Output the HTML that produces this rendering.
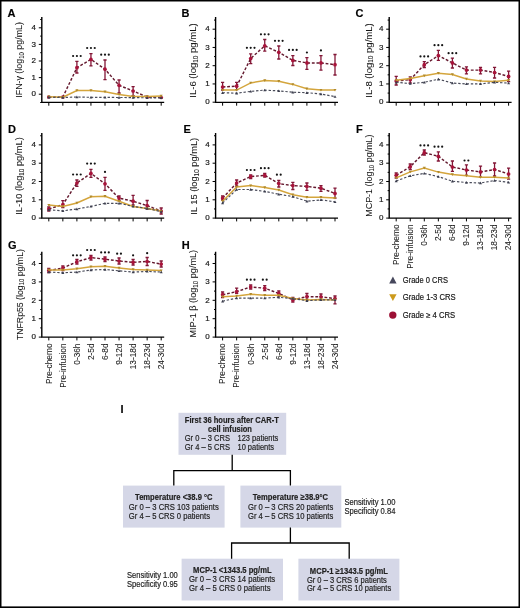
<!DOCTYPE html>
<html><head><meta charset="utf-8"><title>CRS cytokines</title>
<style>html,body{margin:0;padding:0;background:#fff;}svg{display:block;will-change:transform;}text{font-family:"Liberation Sans", sans-serif;stroke:#222;stroke-width:0.18px;}</style>
</head><body>
<svg width="520" height="608" viewBox="0 0 520 608" font-family='"Liberation Sans", sans-serif'>
<rect x="0" y="0" width="520" height="608" fill="#000"/>
<rect x="1.5" y="1.5" width="517" height="604.9" fill="#fff"/>
<text x="7.5" y="16.599999999999998" font-size="11" font-weight="bold" text-anchor="start" fill="#000">A</text>
<text transform="translate(22.1,59.9) rotate(-90)" font-size="9.6" text-anchor="middle" fill="#161616" style="stroke-width:0.06px" textLength="75.7" lengthAdjust="spacingAndGlyphs">IFN-γ (log<tspan font-size="6.6" dy="1.8">10</tspan><tspan dy="-1.8"> pg/mL)</tspan></text>
<path d="M41.8 17.0V102.4H164.2" fill="none" stroke="#000" stroke-width="1.4"/>
<text x="36.0" y="96.4" font-size="8" font-weight="normal" text-anchor="end" fill="#111">0</text>
<text x="36.0" y="79.8" font-size="8" font-weight="normal" text-anchor="end" fill="#111">1</text>
<text x="36.0" y="63.2" font-size="8" font-weight="normal" text-anchor="end" fill="#111">2</text>
<text x="36.0" y="46.6" font-size="8" font-weight="normal" text-anchor="end" fill="#111">3</text>
<text x="36.0" y="29.999999999999996" font-size="8" font-weight="normal" text-anchor="end" fill="#111">4</text>
<path d="M40.199999999999996 102.50H41.8 M38.8 94.20H41.8 M40.199999999999996 85.90H41.8 M38.8 77.60H41.8 M40.199999999999996 69.30H41.8 M38.8 61.00H41.8 M40.199999999999996 52.70H41.8 M38.8 44.40H41.8 M40.199999999999996 36.10H41.8 M38.8 27.80H41.8 M40.199999999999996 19.50H41.8 M48.80 102.4V105.7 M62.85 102.4V105.7 M76.90 102.4V105.7 M90.95 102.4V105.7 M105.00 102.4V105.7 M119.05 102.4V105.7 M133.10 102.4V105.7 M147.15 102.4V105.7 M161.20 102.4V105.7" stroke="#000" stroke-width="1"/>
<polyline points="48.80,97 62.85,97 76.90,67.7 90.95,59.4 105.00,69.2 119.05,85.3 133.10,91 147.15,97 161.20,97.5" fill="none" stroke="#641a2f" stroke-width="1.45" stroke-dasharray="2.8,1.8"/>
<path d="M76.90 61.4V73M75.30 61.4H78.50M75.30 73H78.50 M90.95 53.6V65.8M89.35 53.6H92.55M89.35 65.8H92.55 M105.00 60V79.6M103.40 60H106.60M103.40 79.6H106.60 M119.05 80V93M117.45 80H120.65M117.45 93H120.65 M133.10 86.6V95.7M131.50 86.6H134.70M131.50 95.7H134.70" stroke="#821636" stroke-width="1.3" fill="none"/>
<circle cx="48.80" cy="97" r="1.85" fill="#a8133a"/>
<circle cx="62.85" cy="97" r="1.85" fill="#a8133a"/>
<circle cx="76.90" cy="67.7" r="1.85" fill="#a8133a"/>
<circle cx="90.95" cy="59.4" r="1.85" fill="#a8133a"/>
<circle cx="105.00" cy="69.2" r="1.85" fill="#a8133a"/>
<circle cx="119.05" cy="85.3" r="1.85" fill="#a8133a"/>
<circle cx="133.10" cy="91" r="1.85" fill="#a8133a"/>
<circle cx="147.15" cy="97" r="1.85" fill="#a8133a"/>
<circle cx="161.20" cy="97.5" r="1.85" fill="#a8133a"/>
<polyline points="48.80,96.8 62.85,97.2 76.90,90.5 90.95,90.5 105.00,91.8 119.05,94.4 133.10,96.5 147.15,96.5 161.20,96.0" fill="none" stroke="#d4a53c" stroke-width="1.5"/>
<path d="M47.30 95.6L48.80 98.2L50.30 95.6Z" fill="#b08a2c"/>
<path d="M61.35 96.0L62.85 98.60000000000001L64.35 96.0Z" fill="#b08a2c"/>
<path d="M75.40 89.3L76.90 91.9L78.40 89.3Z" fill="#b08a2c"/>
<path d="M89.45 89.3L90.95 91.9L92.45 89.3Z" fill="#b08a2c"/>
<path d="M103.50 90.6L105.00 93.2L106.50 90.6Z" fill="#b08a2c"/>
<path d="M117.55 93.2L119.05 95.80000000000001L120.55 93.2Z" fill="#b08a2c"/>
<path d="M131.60 95.3L133.10 97.9L134.60 95.3Z" fill="#b08a2c"/>
<path d="M145.65 95.3L147.15 97.9L148.65 95.3Z" fill="#b08a2c"/>
<path d="M159.70 94.8L161.20 97.4L162.70 94.8Z" fill="#b08a2c"/>
<polyline points="48.80,97.2 62.85,97.5 76.90,97 90.95,97.3 105.00,97.3 119.05,97.5 133.10,97.6 147.15,97.8 161.20,97.8" fill="none" stroke="#4a4c5a" stroke-width="1.15" stroke-dasharray="2.4,1.8"/>
<path d="M47.30 98.4L48.80 95.8L50.30 98.4Z" fill="#3a3c4c"/>
<path d="M61.35 98.7L62.85 96.1L64.35 98.7Z" fill="#3a3c4c"/>
<path d="M75.40 98.2L76.90 95.6L78.40 98.2Z" fill="#3a3c4c"/>
<path d="M89.45 98.5L90.95 95.89999999999999L92.45 98.5Z" fill="#3a3c4c"/>
<path d="M103.50 98.5L105.00 95.89999999999999L106.50 98.5Z" fill="#3a3c4c"/>
<path d="M117.55 98.7L119.05 96.1L120.55 98.7Z" fill="#3a3c4c"/>
<path d="M131.60 98.8L133.10 96.19999999999999L134.60 98.8Z" fill="#3a3c4c"/>
<path d="M145.65 99.0L147.15 96.39999999999999L148.65 99.0Z" fill="#3a3c4c"/>
<path d="M159.70 99.0L161.20 96.39999999999999L162.70 99.0Z" fill="#3a3c4c"/>
<circle cx="73.10" cy="56" r="1.1" fill="#141414"/>
<circle cx="76.90" cy="56" r="1.1" fill="#141414"/>
<circle cx="80.70" cy="56" r="1.1" fill="#141414"/>
<circle cx="87.15" cy="48" r="1.1" fill="#141414"/>
<circle cx="90.95" cy="48" r="1.1" fill="#141414"/>
<circle cx="94.75" cy="48" r="1.1" fill="#141414"/>
<circle cx="101.20" cy="54.7" r="1.1" fill="#141414"/>
<circle cx="105.00" cy="54.7" r="1.1" fill="#141414"/>
<circle cx="108.80" cy="54.7" r="1.1" fill="#141414"/>
<text x="181.5" y="16.5" font-size="11" font-weight="bold" text-anchor="start" fill="#000">B</text>
<text transform="translate(196.4,60.5) rotate(-90)" font-size="9.6" text-anchor="middle" fill="#161616" style="stroke-width:0.06px" textLength="74.3" lengthAdjust="spacingAndGlyphs">IL-6 (log<tspan font-size="6.6" dy="1.8">10</tspan><tspan dy="-1.8"> pg/mL)</tspan></text>
<path d="M215.6 17.0V102.4H338.0" fill="none" stroke="#000" stroke-width="1.4"/>
<text x="209.79999999999998" y="104.4" font-size="8" font-weight="normal" text-anchor="end" fill="#111">0</text>
<text x="209.79999999999998" y="86.15" font-size="8" font-weight="normal" text-anchor="end" fill="#111">1</text>
<text x="209.79999999999998" y="67.9" font-size="8" font-weight="normal" text-anchor="end" fill="#111">2</text>
<text x="209.79999999999998" y="49.650000000000006" font-size="8" font-weight="normal" text-anchor="end" fill="#111">3</text>
<text x="209.79999999999998" y="31.400000000000002" font-size="8" font-weight="normal" text-anchor="end" fill="#111">4</text>
<path d="M212.6 102.20H215.6 M214.0 93.08H215.6 M212.6 83.95H215.6 M214.0 74.83H215.6 M212.6 65.70H215.6 M214.0 56.58H215.6 M212.6 47.45H215.6 M214.0 38.33H215.6 M212.6 29.20H215.6 M214.0 20.08H215.6 M222.60 102.4V105.7 M236.65 102.4V105.7 M250.70 102.4V105.7 M264.75 102.4V105.7 M278.80 102.4V105.7 M292.85 102.4V105.7 M306.90 102.4V105.7 M320.95 102.4V105.7 M335.00 102.4V105.7" stroke="#000" stroke-width="1"/>
<polyline points="222.60,87 236.65,86.2 250.70,58.5 264.75,45.8 278.80,52.3 292.85,60.4 306.90,62.9 320.95,62.9 335.00,64.7" fill="none" stroke="#641a2f" stroke-width="1.45" stroke-dasharray="2.8,1.8"/>
<path d="M222.60 82.3V90M221.00 82.3H224.20M221.00 90H224.20 M236.65 82.3V89.6M235.05 82.3H238.25M235.05 89.6H238.25 M250.70 53.8V63.6M249.10 53.8H252.30M249.10 63.6H252.30 M264.75 39.5V51.2M263.15 39.5H266.35M263.15 51.2H266.35 M278.80 46V59M277.20 46H280.40M277.20 59H280.40 M292.85 55.6V65.5M291.25 55.6H294.45M291.25 65.5H294.45 M306.90 57.7V69.4M305.30 57.7H308.50M305.30 69.4H308.50 M320.95 55.6V70.1M319.35 55.6H322.55M319.35 70.1H322.55 M335.00 54.5V75M333.40 54.5H336.60M333.40 75H336.60" stroke="#821636" stroke-width="1.3" fill="none"/>
<circle cx="222.60" cy="87" r="1.85" fill="#a8133a"/>
<circle cx="236.65" cy="86.2" r="1.85" fill="#a8133a"/>
<circle cx="250.70" cy="58.5" r="1.85" fill="#a8133a"/>
<circle cx="264.75" cy="45.8" r="1.85" fill="#a8133a"/>
<circle cx="278.80" cy="52.3" r="1.85" fill="#a8133a"/>
<circle cx="292.85" cy="60.4" r="1.85" fill="#a8133a"/>
<circle cx="306.90" cy="62.9" r="1.85" fill="#a8133a"/>
<circle cx="320.95" cy="62.9" r="1.85" fill="#a8133a"/>
<circle cx="335.00" cy="64.7" r="1.85" fill="#a8133a"/>
<polyline points="222.60,90.1 236.65,90.1 250.70,82.9 264.75,80.5 278.80,81.3 292.85,84.4 306.90,88.8 320.95,90.1 335.00,90.1" fill="none" stroke="#d4a53c" stroke-width="1.5"/>
<path d="M221.10 88.89999999999999L222.60 91.5L224.10 88.89999999999999Z" fill="#b08a2c"/>
<path d="M235.15 88.89999999999999L236.65 91.5L238.15 88.89999999999999Z" fill="#b08a2c"/>
<path d="M249.20 81.7L250.70 84.30000000000001L252.20 81.7Z" fill="#b08a2c"/>
<path d="M263.25 79.3L264.75 81.9L266.25 79.3Z" fill="#b08a2c"/>
<path d="M277.30 80.1L278.80 82.7L280.30 80.1Z" fill="#b08a2c"/>
<path d="M291.35 83.2L292.85 85.80000000000001L294.35 83.2Z" fill="#b08a2c"/>
<path d="M305.40 87.6L306.90 90.2L308.40 87.6Z" fill="#b08a2c"/>
<path d="M319.45 88.89999999999999L320.95 91.5L322.45 88.89999999999999Z" fill="#b08a2c"/>
<path d="M333.50 88.89999999999999L335.00 91.5L336.50 88.89999999999999Z" fill="#b08a2c"/>
<polyline points="222.60,92.7 236.65,93.2 250.70,91.4 264.75,90.1 278.80,90.9 292.85,92.2 306.90,92.7 320.95,94 335.00,96.6" fill="none" stroke="#4a4c5a" stroke-width="1.15" stroke-dasharray="2.4,1.8"/>
<path d="M221.10 93.9L222.60 91.3L224.10 93.9Z" fill="#3a3c4c"/>
<path d="M235.15 94.4L236.65 91.8L238.15 94.4Z" fill="#3a3c4c"/>
<path d="M249.20 92.60000000000001L250.70 90.0L252.20 92.60000000000001Z" fill="#3a3c4c"/>
<path d="M263.25 91.3L264.75 88.69999999999999L266.25 91.3Z" fill="#3a3c4c"/>
<path d="M277.30 92.10000000000001L278.80 89.5L280.30 92.10000000000001Z" fill="#3a3c4c"/>
<path d="M291.35 93.4L292.85 90.8L294.35 93.4Z" fill="#3a3c4c"/>
<path d="M305.40 93.9L306.90 91.3L308.40 93.9Z" fill="#3a3c4c"/>
<path d="M319.45 95.2L320.95 92.6L322.45 95.2Z" fill="#3a3c4c"/>
<path d="M333.50 97.8L335.00 95.19999999999999L336.50 97.8Z" fill="#3a3c4c"/>
<circle cx="246.90" cy="47.8" r="1.1" fill="#141414"/>
<circle cx="250.70" cy="47.8" r="1.1" fill="#141414"/>
<circle cx="254.50" cy="47.8" r="1.1" fill="#141414"/>
<circle cx="260.95" cy="34.3" r="1.1" fill="#141414"/>
<circle cx="264.75" cy="34.3" r="1.1" fill="#141414"/>
<circle cx="268.55" cy="34.3" r="1.1" fill="#141414"/>
<circle cx="275.00" cy="40.8" r="1.1" fill="#141414"/>
<circle cx="278.80" cy="40.8" r="1.1" fill="#141414"/>
<circle cx="282.60" cy="40.8" r="1.1" fill="#141414"/>
<circle cx="289.05" cy="49.9" r="1.1" fill="#141414"/>
<circle cx="292.85" cy="49.9" r="1.1" fill="#141414"/>
<circle cx="296.65" cy="49.9" r="1.1" fill="#141414"/>
<circle cx="306.90" cy="52.5" r="1.1" fill="#141414"/>
<circle cx="320.95" cy="50.4" r="1.1" fill="#141414"/>
<text x="355.4" y="16.5" font-size="11" font-weight="bold" text-anchor="start" fill="#000">C</text>
<text transform="translate(371.5,60.5) rotate(-90)" font-size="9.6" text-anchor="middle" fill="#161616" style="stroke-width:0.06px" textLength="74.3" lengthAdjust="spacingAndGlyphs">IL-8 (log<tspan font-size="6.6" dy="1.8">10</tspan><tspan dy="-1.8"> pg/mL)</tspan></text>
<path d="M389.2 17.0V102.4H511.6" fill="none" stroke="#000" stroke-width="1.4"/>
<text x="383.4" y="104.4" font-size="8" font-weight="normal" text-anchor="end" fill="#111">0</text>
<text x="383.4" y="86.15" font-size="8" font-weight="normal" text-anchor="end" fill="#111">1</text>
<text x="383.4" y="67.9" font-size="8" font-weight="normal" text-anchor="end" fill="#111">2</text>
<text x="383.4" y="49.650000000000006" font-size="8" font-weight="normal" text-anchor="end" fill="#111">3</text>
<text x="383.4" y="31.400000000000002" font-size="8" font-weight="normal" text-anchor="end" fill="#111">4</text>
<path d="M386.2 102.20H389.2 M387.59999999999997 93.08H389.2 M386.2 83.95H389.2 M387.59999999999997 74.83H389.2 M386.2 65.70H389.2 M387.59999999999997 56.58H389.2 M386.2 47.45H389.2 M387.59999999999997 38.33H389.2 M386.2 29.20H389.2 M387.59999999999997 20.08H389.2 M396.20 102.4V105.7 M410.25 102.4V105.7 M424.30 102.4V105.7 M438.35 102.4V105.7 M452.40 102.4V105.7 M466.45 102.4V105.7 M480.50 102.4V105.7 M494.55 102.4V105.7 M508.60 102.4V105.7" stroke="#000" stroke-width="1"/>
<polyline points="396.20,81 410.25,79.7 424.30,64.7 438.35,55.6 452.40,62.9 466.45,70.1 480.50,70.1 494.55,72.5 508.60,76.4" fill="none" stroke="#641a2f" stroke-width="1.45" stroke-dasharray="2.8,1.8"/>
<path d="M396.20 76.4V85M394.60 76.4H397.80M394.60 85H397.80 M410.25 76.8V83M408.65 76.8H411.85M408.65 83H411.85 M424.30 61.6V67.5M422.70 61.6H425.90M422.70 67.5H425.90 M438.35 50.4V60.3M436.75 50.4H439.95M436.75 60.3H439.95 M452.40 58.2V68M450.80 58.2H454.00M450.80 68H454.00 M466.45 66.8V73.8M464.85 66.8H468.05M464.85 73.8H468.05 M480.50 67.5V73.8M478.90 67.5H482.10M478.90 73.8H482.10 M494.55 67.3V78M492.95 67.3H496.15M492.95 78H496.15 M508.60 71.2V81.6M507.00 71.2H510.20M507.00 81.6H510.20" stroke="#821636" stroke-width="1.3" fill="none"/>
<circle cx="396.20" cy="81" r="1.85" fill="#a8133a"/>
<circle cx="410.25" cy="79.7" r="1.85" fill="#a8133a"/>
<circle cx="424.30" cy="64.7" r="1.85" fill="#a8133a"/>
<circle cx="438.35" cy="55.6" r="1.85" fill="#a8133a"/>
<circle cx="452.40" cy="62.9" r="1.85" fill="#a8133a"/>
<circle cx="466.45" cy="70.1" r="1.85" fill="#a8133a"/>
<circle cx="480.50" cy="70.1" r="1.85" fill="#a8133a"/>
<circle cx="494.55" cy="72.5" r="1.85" fill="#a8133a"/>
<circle cx="508.60" cy="76.4" r="1.85" fill="#a8133a"/>
<polyline points="396.20,80.3 410.25,78.4 424.30,75.8 438.35,73.2 452.40,74.5 466.45,79 480.50,81 494.55,81.6 508.60,80.3" fill="none" stroke="#d4a53c" stroke-width="1.5"/>
<path d="M394.70 79.1L396.20 81.7L397.70 79.1Z" fill="#b08a2c"/>
<path d="M408.75 77.2L410.25 79.80000000000001L411.75 77.2Z" fill="#b08a2c"/>
<path d="M422.80 74.6L424.30 77.2L425.80 74.6Z" fill="#b08a2c"/>
<path d="M436.85 72.0L438.35 74.60000000000001L439.85 72.0Z" fill="#b08a2c"/>
<path d="M450.90 73.3L452.40 75.9L453.90 73.3Z" fill="#b08a2c"/>
<path d="M464.95 77.8L466.45 80.4L467.95 77.8Z" fill="#b08a2c"/>
<path d="M479.00 79.8L480.50 82.4L482.00 79.8Z" fill="#b08a2c"/>
<path d="M493.05 80.39999999999999L494.55 83.0L496.05 80.39999999999999Z" fill="#b08a2c"/>
<path d="M507.10 79.1L508.60 81.7L510.10 79.1Z" fill="#b08a2c"/>
<polyline points="396.20,82.3 410.25,83.6 424.30,82.3 438.35,79.2 452.40,83.1 466.45,83.9 480.50,83.9 494.55,82.3 508.60,83.1" fill="none" stroke="#4a4c5a" stroke-width="1.15" stroke-dasharray="2.4,1.8"/>
<path d="M394.70 83.5L396.20 80.89999999999999L397.70 83.5Z" fill="#3a3c4c"/>
<path d="M408.75 84.8L410.25 82.19999999999999L411.75 84.8Z" fill="#3a3c4c"/>
<path d="M422.80 83.5L424.30 80.89999999999999L425.80 83.5Z" fill="#3a3c4c"/>
<path d="M436.85 80.4L438.35 77.8L439.85 80.4Z" fill="#3a3c4c"/>
<path d="M450.90 84.3L452.40 81.69999999999999L453.90 84.3Z" fill="#3a3c4c"/>
<path d="M464.95 85.10000000000001L466.45 82.5L467.95 85.10000000000001Z" fill="#3a3c4c"/>
<path d="M479.00 85.10000000000001L480.50 82.5L482.00 85.10000000000001Z" fill="#3a3c4c"/>
<path d="M493.05 83.5L494.55 80.89999999999999L496.05 83.5Z" fill="#3a3c4c"/>
<path d="M507.10 84.3L508.60 81.69999999999999L510.10 84.3Z" fill="#3a3c4c"/>
<circle cx="420.50" cy="56.4" r="1.1" fill="#141414"/>
<circle cx="424.30" cy="56.4" r="1.1" fill="#141414"/>
<circle cx="428.10" cy="56.4" r="1.1" fill="#141414"/>
<circle cx="434.55" cy="45.2" r="1.1" fill="#141414"/>
<circle cx="438.35" cy="45.2" r="1.1" fill="#141414"/>
<circle cx="442.15" cy="45.2" r="1.1" fill="#141414"/>
<circle cx="448.60" cy="53.2" r="1.1" fill="#141414"/>
<circle cx="452.40" cy="53.2" r="1.1" fill="#141414"/>
<circle cx="456.20" cy="53.2" r="1.1" fill="#141414"/>
<text x="8.0" y="132.6" font-size="11" font-weight="bold" text-anchor="start" fill="#000">D</text>
<text transform="translate(21.900000000000002,176.0) rotate(-90)" font-size="9.6" text-anchor="middle" fill="#161616" style="stroke-width:0.06px" textLength="77.6" lengthAdjust="spacingAndGlyphs">IL-10 (log<tspan font-size="6.6" dy="1.8">10</tspan><tspan dy="-1.8"> pg/mL)</tspan></text>
<path d="M41.8 133.0V218.1H164.2" fill="none" stroke="#000" stroke-width="1.4"/>
<text x="36.0" y="220.29999999999998" font-size="8" font-weight="normal" text-anchor="end" fill="#111">0</text>
<text x="36.0" y="201.99999999999997" font-size="8" font-weight="normal" text-anchor="end" fill="#111">1</text>
<text x="36.0" y="183.7" font-size="8" font-weight="normal" text-anchor="end" fill="#111">2</text>
<text x="36.0" y="165.39999999999998" font-size="8" font-weight="normal" text-anchor="end" fill="#111">3</text>
<text x="36.0" y="147.09999999999997" font-size="8" font-weight="normal" text-anchor="end" fill="#111">4</text>
<path d="M38.8 218.10H41.8 M40.199999999999996 208.95H41.8 M38.8 199.80H41.8 M40.199999999999996 190.65H41.8 M38.8 181.50H41.8 M40.199999999999996 172.35H41.8 M38.8 163.20H41.8 M40.199999999999996 154.05H41.8 M38.8 144.90H41.8 M40.199999999999996 135.75H41.8 M48.80 218.1V221.4 M62.85 218.1V221.4 M76.90 218.1V221.4 M90.95 218.1V221.4 M105.00 218.1V221.4 M119.05 218.1V221.4 M133.10 218.1V221.4 M147.15 218.1V221.4 M161.20 218.1V221.4" stroke="#000" stroke-width="1"/>
<polyline points="48.80,209 62.85,204.6 76.90,183 90.95,173.4 105.00,183.8 119.05,198.1 133.10,201.2 147.15,205.6 161.20,211.1" fill="none" stroke="#641a2f" stroke-width="1.45" stroke-dasharray="2.8,1.8"/>
<path d="M48.80 207V211M47.20 207H50.40M47.20 211H50.40 M62.85 200.7V207.7M61.25 200.7H64.45M61.25 207.7H64.45 M76.90 180V186.4M75.30 180H78.50M75.30 186.4H78.50 M90.95 169.3V177.3M89.35 169.3H92.55M89.35 177.3H92.55 M105.00 177.3V190.3M103.40 177.3H106.60M103.40 190.3H106.60 M119.05 196V200.5M117.45 196H120.65M117.45 200.5H120.65 M133.10 195.3V205M131.50 195.3H134.70M131.50 205H134.70 M147.15 200.5V209M145.55 200.5H148.75M145.55 209H148.75 M161.20 208V214M159.60 208H162.80M159.60 214H162.80" stroke="#821636" stroke-width="1.3" fill="none"/>
<circle cx="48.80" cy="209" r="1.85" fill="#a8133a"/>
<circle cx="62.85" cy="204.6" r="1.85" fill="#a8133a"/>
<circle cx="76.90" cy="183" r="1.85" fill="#a8133a"/>
<circle cx="90.95" cy="173.4" r="1.85" fill="#a8133a"/>
<circle cx="105.00" cy="183.8" r="1.85" fill="#a8133a"/>
<circle cx="119.05" cy="198.1" r="1.85" fill="#a8133a"/>
<circle cx="133.10" cy="201.2" r="1.85" fill="#a8133a"/>
<circle cx="147.15" cy="205.6" r="1.85" fill="#a8133a"/>
<circle cx="161.20" cy="211.1" r="1.85" fill="#a8133a"/>
<polyline points="48.80,205.1 62.85,206.4 76.90,203 90.95,196.8 105.00,196.3 119.05,201.2 133.10,206.4 147.15,208.5 161.20,211.1" fill="none" stroke="#d4a53c" stroke-width="1.5"/>
<path d="M47.30 203.9L48.80 206.5L50.30 203.9Z" fill="#b08a2c"/>
<path d="M61.35 205.20000000000002L62.85 207.8L64.35 205.20000000000002Z" fill="#b08a2c"/>
<path d="M75.40 201.8L76.90 204.4L78.40 201.8Z" fill="#b08a2c"/>
<path d="M89.45 195.60000000000002L90.95 198.20000000000002L92.45 195.60000000000002Z" fill="#b08a2c"/>
<path d="M103.50 195.10000000000002L105.00 197.70000000000002L106.50 195.10000000000002Z" fill="#b08a2c"/>
<path d="M117.55 200.0L119.05 202.6L120.55 200.0Z" fill="#b08a2c"/>
<path d="M131.60 205.20000000000002L133.10 207.8L134.60 205.20000000000002Z" fill="#b08a2c"/>
<path d="M145.65 207.3L147.15 209.9L148.65 207.3Z" fill="#b08a2c"/>
<path d="M159.70 209.9L161.20 212.5L162.70 209.9Z" fill="#b08a2c"/>
<polyline points="48.80,209.8 62.85,210.8 76.90,209 90.95,206.4 105.00,203.3 119.05,203.3 133.10,206.4 147.15,208.5 161.20,211.6" fill="none" stroke="#4a4c5a" stroke-width="1.15" stroke-dasharray="2.4,1.8"/>
<path d="M47.30 211.0L48.80 208.4L50.30 211.0Z" fill="#3a3c4c"/>
<path d="M61.35 212.0L62.85 209.4L64.35 212.0Z" fill="#3a3c4c"/>
<path d="M75.40 210.2L76.90 207.6L78.40 210.2Z" fill="#3a3c4c"/>
<path d="M89.45 207.6L90.95 205.0L92.45 207.6Z" fill="#3a3c4c"/>
<path d="M103.50 204.5L105.00 201.9L106.50 204.5Z" fill="#3a3c4c"/>
<path d="M117.55 204.5L119.05 201.9L120.55 204.5Z" fill="#3a3c4c"/>
<path d="M131.60 207.6L133.10 205.0L134.60 207.6Z" fill="#3a3c4c"/>
<path d="M145.65 209.7L147.15 207.1L148.65 209.7Z" fill="#3a3c4c"/>
<path d="M159.70 212.79999999999998L161.20 210.2L162.70 212.79999999999998Z" fill="#3a3c4c"/>
<circle cx="73.10" cy="174.5" r="1.1" fill="#141414"/>
<circle cx="76.90" cy="174.5" r="1.1" fill="#141414"/>
<circle cx="80.70" cy="174.5" r="1.1" fill="#141414"/>
<circle cx="87.15" cy="163.6" r="1.1" fill="#141414"/>
<circle cx="90.95" cy="163.6" r="1.1" fill="#141414"/>
<circle cx="94.75" cy="163.6" r="1.1" fill="#141414"/>
<circle cx="105.00" cy="171.9" r="1.1" fill="#141414"/>
<text x="183.5" y="132.6" font-size="11" font-weight="bold" text-anchor="start" fill="#000">E</text>
<text transform="translate(197.29999999999998,176.3) rotate(-90)" font-size="9.6" text-anchor="middle" fill="#161616" style="stroke-width:0.06px" textLength="76.9" lengthAdjust="spacingAndGlyphs">IL 15 (log<tspan font-size="6.6" dy="1.8">10</tspan><tspan dy="-1.8"> pg/mL)</tspan></text>
<path d="M215.6 133.0V218.1H338.0" fill="none" stroke="#000" stroke-width="1.4"/>
<text x="209.79999999999998" y="220.29999999999998" font-size="8" font-weight="normal" text-anchor="end" fill="#111">0</text>
<text x="209.79999999999998" y="201.99999999999997" font-size="8" font-weight="normal" text-anchor="end" fill="#111">1</text>
<text x="209.79999999999998" y="183.7" font-size="8" font-weight="normal" text-anchor="end" fill="#111">2</text>
<text x="209.79999999999998" y="165.39999999999998" font-size="8" font-weight="normal" text-anchor="end" fill="#111">3</text>
<text x="209.79999999999998" y="147.09999999999997" font-size="8" font-weight="normal" text-anchor="end" fill="#111">4</text>
<path d="M212.6 218.10H215.6 M214.0 208.95H215.6 M212.6 199.80H215.6 M214.0 190.65H215.6 M212.6 181.50H215.6 M214.0 172.35H215.6 M212.6 163.20H215.6 M214.0 154.05H215.6 M212.6 144.90H215.6 M214.0 135.75H215.6 M222.60 218.1V221.4 M236.65 218.1V221.4 M250.70 218.1V221.4 M264.75 218.1V221.4 M278.80 218.1V221.4 M292.85 218.1V221.4 M306.90 218.1V221.4 M320.95 218.1V221.4 M335.00 218.1V221.4" stroke="#000" stroke-width="1"/>
<polyline points="222.60,198.1 236.65,183 250.70,176.6 264.75,175.3 278.80,183.6 292.85,185.6 306.90,186.4 320.95,188.2 335.00,193.4" fill="none" stroke="#641a2f" stroke-width="1.45" stroke-dasharray="2.8,1.8"/>
<path d="M222.60 196V200M221.00 196H224.20M221.00 200H224.20 M236.65 180V186M235.05 180H238.25M235.05 186H238.25 M250.70 175V178.5M249.10 175H252.30M249.10 178.5H252.30 M264.75 173.5V177M263.15 173.5H266.35M263.15 177H266.35 M278.80 180.5V187M277.20 180.5H280.40M277.20 187H280.40 M292.85 182.3V189.5M291.25 182.3H294.45M291.25 189.5H294.45 M306.90 183V190.3M305.30 183H308.50M305.30 190.3H308.50 M320.95 185.6V191.4M319.35 185.6H322.55M319.35 191.4H322.55 M335.00 188.2V198.1M333.40 188.2H336.60M333.40 198.1H336.60" stroke="#821636" stroke-width="1.3" fill="none"/>
<circle cx="222.60" cy="198.1" r="1.85" fill="#a8133a"/>
<circle cx="236.65" cy="183" r="1.85" fill="#a8133a"/>
<circle cx="250.70" cy="176.6" r="1.85" fill="#a8133a"/>
<circle cx="264.75" cy="175.3" r="1.85" fill="#a8133a"/>
<circle cx="278.80" cy="183.6" r="1.85" fill="#a8133a"/>
<circle cx="292.85" cy="185.6" r="1.85" fill="#a8133a"/>
<circle cx="306.90" cy="186.4" r="1.85" fill="#a8133a"/>
<circle cx="320.95" cy="188.2" r="1.85" fill="#a8133a"/>
<circle cx="335.00" cy="193.4" r="1.85" fill="#a8133a"/>
<polyline points="222.60,201.2 236.65,187 250.70,185.6 264.75,187.5 278.80,190 292.85,194.7 306.90,197.3 320.95,197.3 335.00,198.1" fill="none" stroke="#d4a53c" stroke-width="1.5"/>
<path d="M221.10 200.0L222.60 202.6L224.10 200.0Z" fill="#b08a2c"/>
<path d="M235.15 185.8L236.65 188.4L238.15 185.8Z" fill="#b08a2c"/>
<path d="M249.20 184.4L250.70 187.0L252.20 184.4Z" fill="#b08a2c"/>
<path d="M263.25 186.3L264.75 188.9L266.25 186.3Z" fill="#b08a2c"/>
<path d="M277.30 188.8L278.80 191.4L280.30 188.8Z" fill="#b08a2c"/>
<path d="M291.35 193.5L292.85 196.1L294.35 193.5Z" fill="#b08a2c"/>
<path d="M305.40 196.10000000000002L306.90 198.70000000000002L308.40 196.10000000000002Z" fill="#b08a2c"/>
<path d="M319.45 196.10000000000002L320.95 198.70000000000002L322.45 196.10000000000002Z" fill="#b08a2c"/>
<path d="M333.50 196.9L335.00 199.5L336.50 196.9Z" fill="#b08a2c"/>
<polyline points="222.60,203 236.65,189.5 250.70,189.5 264.75,191.4 278.80,194.2 292.85,196.6 306.90,201.2 320.95,199.9 335.00,201.8" fill="none" stroke="#4a4c5a" stroke-width="1.15" stroke-dasharray="2.4,1.8"/>
<path d="M221.10 204.2L222.60 201.6L224.10 204.2Z" fill="#3a3c4c"/>
<path d="M235.15 190.7L236.65 188.1L238.15 190.7Z" fill="#3a3c4c"/>
<path d="M249.20 190.7L250.70 188.1L252.20 190.7Z" fill="#3a3c4c"/>
<path d="M263.25 192.6L264.75 190.0L266.25 192.6Z" fill="#3a3c4c"/>
<path d="M277.30 195.39999999999998L278.80 192.79999999999998L280.30 195.39999999999998Z" fill="#3a3c4c"/>
<path d="M291.35 197.79999999999998L292.85 195.2L294.35 197.79999999999998Z" fill="#3a3c4c"/>
<path d="M305.40 202.39999999999998L306.90 199.79999999999998L308.40 202.39999999999998Z" fill="#3a3c4c"/>
<path d="M319.45 201.1L320.95 198.5L322.45 201.1Z" fill="#3a3c4c"/>
<path d="M333.50 203.0L335.00 200.4L336.50 203.0Z" fill="#3a3c4c"/>
<circle cx="246.90" cy="170" r="1.1" fill="#141414"/>
<circle cx="250.70" cy="170" r="1.1" fill="#141414"/>
<circle cx="254.50" cy="170" r="1.1" fill="#141414"/>
<circle cx="260.95" cy="168.2" r="1.1" fill="#141414"/>
<circle cx="264.75" cy="168.2" r="1.1" fill="#141414"/>
<circle cx="268.55" cy="168.2" r="1.1" fill="#141414"/>
<circle cx="276.90" cy="174.7" r="1.1" fill="#141414"/>
<circle cx="280.70" cy="174.7" r="1.1" fill="#141414"/>
<text x="356.1" y="132.6" font-size="11" font-weight="bold" text-anchor="start" fill="#000">F</text>
<text transform="translate(372.20000000000005,175.6) rotate(-90)" font-size="9.6" text-anchor="middle" fill="#161616" style="stroke-width:0.06px" textLength="82.3" lengthAdjust="spacingAndGlyphs">MCP-1  (log<tspan font-size="6.6" dy="1.8">10</tspan><tspan dy="-1.8"> pg/mL)</tspan></text>
<path d="M389.2 133.0V218.1H511.6" fill="none" stroke="#000" stroke-width="1.4"/>
<text x="383.4" y="220.29999999999998" font-size="8" font-weight="normal" text-anchor="end" fill="#111">0</text>
<text x="383.4" y="201.99999999999997" font-size="8" font-weight="normal" text-anchor="end" fill="#111">1</text>
<text x="383.4" y="183.7" font-size="8" font-weight="normal" text-anchor="end" fill="#111">2</text>
<text x="383.4" y="165.39999999999998" font-size="8" font-weight="normal" text-anchor="end" fill="#111">3</text>
<text x="383.4" y="147.09999999999997" font-size="8" font-weight="normal" text-anchor="end" fill="#111">4</text>
<path d="M386.2 218.10H389.2 M387.59999999999997 208.95H389.2 M386.2 199.80H389.2 M387.59999999999997 190.65H389.2 M386.2 181.50H389.2 M387.59999999999997 172.35H389.2 M386.2 163.20H389.2 M387.59999999999997 154.05H389.2 M386.2 144.90H389.2 M387.59999999999997 135.75H389.2 M396.20 218.1V221.4 M410.25 218.1V221.4 M424.30 218.1V221.4 M438.35 218.1V221.4 M452.40 218.1V221.4 M466.45 218.1V221.4 M480.50 218.1V221.4 M494.55 218.1V221.4 M508.60 218.1V221.4" stroke="#000" stroke-width="1"/>
<polyline points="396.20,175.3 410.25,166.7 424.30,152.7 438.35,156.3 452.40,167 466.45,170 480.50,171.9 494.55,169.5 508.60,174" fill="none" stroke="#641a2f" stroke-width="1.45" stroke-dasharray="2.8,1.8"/>
<path d="M396.20 173V178M394.60 173H397.80M394.60 178H397.80 M410.25 164V169.5M408.65 164H411.85M408.65 169.5H411.85 M424.30 150V155M422.70 150H425.90M422.70 155H425.90 M438.35 151.9V161M436.75 151.9H439.95M436.75 161H439.95 M452.40 161V171.4M450.80 161H454.00M450.80 171.4H454.00 M466.45 164.9V175.3M464.85 164.9H468.05M464.85 175.3H468.05 M480.50 166.2V177.3M478.90 166.2H482.10M478.90 177.3H482.10 M494.55 163V176M492.95 163H496.15M492.95 176H496.15 M508.60 168.2V179.2M507.00 168.2H510.20M507.00 179.2H510.20" stroke="#821636" stroke-width="1.3" fill="none"/>
<circle cx="396.20" cy="175.3" r="1.85" fill="#a8133a"/>
<circle cx="410.25" cy="166.7" r="1.85" fill="#a8133a"/>
<circle cx="424.30" cy="152.7" r="1.85" fill="#a8133a"/>
<circle cx="438.35" cy="156.3" r="1.85" fill="#a8133a"/>
<circle cx="452.40" cy="167" r="1.85" fill="#a8133a"/>
<circle cx="466.45" cy="170" r="1.85" fill="#a8133a"/>
<circle cx="480.50" cy="171.9" r="1.85" fill="#a8133a"/>
<circle cx="494.55" cy="169.5" r="1.85" fill="#a8133a"/>
<circle cx="508.60" cy="174" r="1.85" fill="#a8133a"/>
<polyline points="396.20,177.9 410.25,171.9 424.30,168 438.35,172.1 452.40,174.5 466.45,175.8 480.50,177.3 494.55,177.3 508.60,177.9" fill="none" stroke="#d4a53c" stroke-width="1.5"/>
<path d="M394.70 176.70000000000002L396.20 179.3L397.70 176.70000000000002Z" fill="#b08a2c"/>
<path d="M408.75 170.70000000000002L410.25 173.3L411.75 170.70000000000002Z" fill="#b08a2c"/>
<path d="M422.80 166.8L424.30 169.4L425.80 166.8Z" fill="#b08a2c"/>
<path d="M436.85 170.9L438.35 173.5L439.85 170.9Z" fill="#b08a2c"/>
<path d="M450.90 173.3L452.40 175.9L453.90 173.3Z" fill="#b08a2c"/>
<path d="M464.95 174.60000000000002L466.45 177.20000000000002L467.95 174.60000000000002Z" fill="#b08a2c"/>
<path d="M479.00 176.10000000000002L480.50 178.70000000000002L482.00 176.10000000000002Z" fill="#b08a2c"/>
<path d="M493.05 176.10000000000002L494.55 178.70000000000002L496.05 176.10000000000002Z" fill="#b08a2c"/>
<path d="M507.10 176.70000000000002L508.60 179.3L510.10 176.70000000000002Z" fill="#b08a2c"/>
<polyline points="396.20,181 410.25,175.8 424.30,173.4 438.35,176.6 452.40,181.2 466.45,182.5 480.50,183 494.55,180.5 508.60,182.3" fill="none" stroke="#4a4c5a" stroke-width="1.15" stroke-dasharray="2.4,1.8"/>
<path d="M394.70 182.2L396.20 179.6L397.70 182.2Z" fill="#3a3c4c"/>
<path d="M408.75 177.0L410.25 174.4L411.75 177.0Z" fill="#3a3c4c"/>
<path d="M422.80 174.6L424.30 172.0L425.80 174.6Z" fill="#3a3c4c"/>
<path d="M436.85 177.79999999999998L438.35 175.2L439.85 177.79999999999998Z" fill="#3a3c4c"/>
<path d="M450.90 182.39999999999998L452.40 179.79999999999998L453.90 182.39999999999998Z" fill="#3a3c4c"/>
<path d="M464.95 183.7L466.45 181.1L467.95 183.7Z" fill="#3a3c4c"/>
<path d="M479.00 184.2L480.50 181.6L482.00 184.2Z" fill="#3a3c4c"/>
<path d="M493.05 181.7L494.55 179.1L496.05 181.7Z" fill="#3a3c4c"/>
<path d="M507.10 183.5L508.60 180.9L510.10 183.5Z" fill="#3a3c4c"/>
<circle cx="420.50" cy="145.4" r="1.1" fill="#141414"/>
<circle cx="424.30" cy="145.4" r="1.1" fill="#141414"/>
<circle cx="428.10" cy="145.4" r="1.1" fill="#141414"/>
<circle cx="434.55" cy="146.7" r="1.1" fill="#141414"/>
<circle cx="438.35" cy="146.7" r="1.1" fill="#141414"/>
<circle cx="442.15" cy="146.7" r="1.1" fill="#141414"/>
<circle cx="464.55" cy="160.5" r="1.1" fill="#141414"/>
<circle cx="468.35" cy="160.5" r="1.1" fill="#141414"/>
<text x="7.9" y="248.5" font-size="11" font-weight="bold" text-anchor="start" fill="#000">G</text>
<text transform="translate(22.5,294.6) rotate(-90)" font-size="9.6" text-anchor="middle" fill="#161616" style="stroke-width:0.06px" textLength="91.0" lengthAdjust="spacingAndGlyphs">TNFRp55 (log<tspan font-size="6.6" dy="1.8">10</tspan><tspan dy="-1.8"> pg/mL)</tspan></text>
<path d="M41.8 251.8V337.1H164.2" fill="none" stroke="#000" stroke-width="1.4"/>
<text x="36.0" y="339.3" font-size="8" font-weight="normal" text-anchor="end" fill="#111">0</text>
<text x="36.0" y="320.90000000000003" font-size="8" font-weight="normal" text-anchor="end" fill="#111">1</text>
<text x="36.0" y="302.5" font-size="8" font-weight="normal" text-anchor="end" fill="#111">2</text>
<text x="36.0" y="284.1" font-size="8" font-weight="normal" text-anchor="end" fill="#111">3</text>
<text x="36.0" y="265.7" font-size="8" font-weight="normal" text-anchor="end" fill="#111">4</text>
<path d="M38.8 337.10H41.8 M40.199999999999996 327.90H41.8 M38.8 318.70H41.8 M40.199999999999996 309.50H41.8 M38.8 300.30H41.8 M40.199999999999996 291.10H41.8 M38.8 281.90H41.8 M40.199999999999996 272.70H41.8 M38.8 263.50H41.8 M40.199999999999996 254.30H41.8 M48.80 337.1V340.40000000000003 M62.85 337.1V340.40000000000003 M76.90 337.1V340.40000000000003 M90.95 337.1V340.40000000000003 M105.00 337.1V340.40000000000003 M119.05 337.1V340.40000000000003 M133.10 337.1V340.40000000000003 M147.15 337.1V340.40000000000003 M161.20 337.1V340.40000000000003" stroke="#000" stroke-width="1"/>
<polyline points="48.80,270.6 62.85,268 76.90,261.8 90.95,257.6 105.00,259.2 119.05,261 133.10,262.3 147.15,261.5 161.20,264.1" fill="none" stroke="#641a2f" stroke-width="1.45" stroke-dasharray="2.8,1.8"/>
<path d="M48.80 268.5V272.5M47.20 268.5H50.40M47.20 272.5H50.40 M62.85 266V270.5M61.25 266H64.45M61.25 270.5H64.45 M76.90 259.5V264M75.30 259.5H78.50M75.30 264H78.50 M90.95 255.5V260M89.35 255.5H92.55M89.35 260H92.55 M105.00 257V261.5M103.40 257H106.60M103.40 261.5H106.60 M119.05 258V264M117.45 258H120.65M117.45 264H120.65 M133.10 259.5V265M131.50 259.5H134.70M131.50 265H134.70 M147.15 257.5V265.5M145.55 257.5H148.75M145.55 265.5H148.75 M161.20 261V267M159.60 261H162.80M159.60 267H162.80" stroke="#821636" stroke-width="1.3" fill="none"/>
<circle cx="48.80" cy="270.6" r="1.85" fill="#a8133a"/>
<circle cx="62.85" cy="268" r="1.85" fill="#a8133a"/>
<circle cx="76.90" cy="261.8" r="1.85" fill="#a8133a"/>
<circle cx="90.95" cy="257.6" r="1.85" fill="#a8133a"/>
<circle cx="105.00" cy="259.2" r="1.85" fill="#a8133a"/>
<circle cx="119.05" cy="261" r="1.85" fill="#a8133a"/>
<circle cx="133.10" cy="262.3" r="1.85" fill="#a8133a"/>
<circle cx="147.15" cy="261.5" r="1.85" fill="#a8133a"/>
<circle cx="161.20" cy="264.1" r="1.85" fill="#a8133a"/>
<polyline points="48.80,270 62.85,270 76.90,268.8 90.95,266.7 105.00,266.2 119.05,268 133.10,269.5 147.15,270 161.20,270.6" fill="none" stroke="#d4a53c" stroke-width="1.5"/>
<path d="M47.30 268.8L48.80 271.4L50.30 268.8Z" fill="#b08a2c"/>
<path d="M61.35 268.8L62.85 271.4L64.35 268.8Z" fill="#b08a2c"/>
<path d="M75.40 267.6L76.90 270.2L78.40 267.6Z" fill="#b08a2c"/>
<path d="M89.45 265.5L90.95 268.09999999999997L92.45 265.5Z" fill="#b08a2c"/>
<path d="M103.50 265.0L105.00 267.59999999999997L106.50 265.0Z" fill="#b08a2c"/>
<path d="M117.55 266.8L119.05 269.4L120.55 266.8Z" fill="#b08a2c"/>
<path d="M131.60 268.3L133.10 270.9L134.60 268.3Z" fill="#b08a2c"/>
<path d="M145.65 268.8L147.15 271.4L148.65 268.8Z" fill="#b08a2c"/>
<path d="M159.70 269.40000000000003L161.20 272.0L162.70 269.40000000000003Z" fill="#b08a2c"/>
<polyline points="48.80,272.1 62.85,272.7 76.90,272.1 90.95,270 105.00,269.5 119.05,270.8 133.10,272.1 147.15,271.4 161.20,272.1" fill="none" stroke="#4a4c5a" stroke-width="1.15" stroke-dasharray="2.4,1.8"/>
<path d="M47.30 273.3L48.80 270.70000000000005L50.30 273.3Z" fill="#3a3c4c"/>
<path d="M61.35 273.9L62.85 271.3L64.35 273.9Z" fill="#3a3c4c"/>
<path d="M75.40 273.3L76.90 270.70000000000005L78.40 273.3Z" fill="#3a3c4c"/>
<path d="M89.45 271.2L90.95 268.6L92.45 271.2Z" fill="#3a3c4c"/>
<path d="M103.50 270.7L105.00 268.1L106.50 270.7Z" fill="#3a3c4c"/>
<path d="M117.55 272.0L119.05 269.40000000000003L120.55 272.0Z" fill="#3a3c4c"/>
<path d="M131.60 273.3L133.10 270.70000000000005L134.60 273.3Z" fill="#3a3c4c"/>
<path d="M145.65 272.59999999999997L147.15 270.0L148.65 272.59999999999997Z" fill="#3a3c4c"/>
<path d="M159.70 273.3L161.20 270.70000000000005L162.70 273.3Z" fill="#3a3c4c"/>
<circle cx="73.10" cy="255.3" r="1.1" fill="#141414"/>
<circle cx="76.90" cy="255.3" r="1.1" fill="#141414"/>
<circle cx="80.70" cy="255.3" r="1.1" fill="#141414"/>
<circle cx="87.15" cy="250" r="1.1" fill="#141414"/>
<circle cx="90.95" cy="250" r="1.1" fill="#141414"/>
<circle cx="94.75" cy="250" r="1.1" fill="#141414"/>
<circle cx="101.20" cy="252.4" r="1.1" fill="#141414"/>
<circle cx="105.00" cy="252.4" r="1.1" fill="#141414"/>
<circle cx="108.80" cy="252.4" r="1.1" fill="#141414"/>
<circle cx="117.15" cy="253.7" r="1.1" fill="#141414"/>
<circle cx="120.95" cy="253.7" r="1.1" fill="#141414"/>
<circle cx="133.10" cy="255.3" r="1.1" fill="#141414"/>
<circle cx="147.15" cy="253.2" r="1.1" fill="#141414"/>
<text x="181.7" y="248.5" font-size="11" font-weight="bold" text-anchor="start" fill="#000">H</text>
<text transform="translate(196.4,293.7) rotate(-90)" font-size="9.6" text-anchor="middle" fill="#161616" style="stroke-width:0.06px" textLength="87.7" lengthAdjust="spacingAndGlyphs">MIP-1 β (log<tspan font-size="6.6" dy="1.8">10</tspan><tspan dy="-1.8"> pg/mL)</tspan></text>
<path d="M215.6 251.8V337.1H338.0" fill="none" stroke="#000" stroke-width="1.4"/>
<text x="209.79999999999998" y="339.3" font-size="8" font-weight="normal" text-anchor="end" fill="#111">0</text>
<text x="209.79999999999998" y="320.90000000000003" font-size="8" font-weight="normal" text-anchor="end" fill="#111">1</text>
<text x="209.79999999999998" y="302.5" font-size="8" font-weight="normal" text-anchor="end" fill="#111">2</text>
<text x="209.79999999999998" y="284.1" font-size="8" font-weight="normal" text-anchor="end" fill="#111">3</text>
<text x="209.79999999999998" y="265.7" font-size="8" font-weight="normal" text-anchor="end" fill="#111">4</text>
<path d="M212.6 337.10H215.6 M214.0 327.90H215.6 M212.6 318.70H215.6 M214.0 309.50H215.6 M212.6 300.30H215.6 M214.0 291.10H215.6 M212.6 281.90H215.6 M214.0 272.70H215.6 M212.6 263.50H215.6 M214.0 254.30H215.6 M222.60 337.1V340.40000000000003 M236.65 337.1V340.40000000000003 M250.70 337.1V340.40000000000003 M264.75 337.1V340.40000000000003 M278.80 337.1V340.40000000000003 M292.85 337.1V340.40000000000003 M306.90 337.1V340.40000000000003 M320.95 337.1V340.40000000000003 M335.00 337.1V340.40000000000003" stroke="#000" stroke-width="1"/>
<polyline points="222.60,294.7 236.65,291.6 250.70,287 264.75,288.2 278.80,293.4 292.85,299.9 306.90,296.6 320.95,296.8 335.00,298.6" fill="none" stroke="#641a2f" stroke-width="1.45" stroke-dasharray="2.8,1.8"/>
<path d="M222.60 292V297.5M221.00 292H224.20M221.00 297.5H224.20 M236.65 288.2V293.4M235.05 288.2H238.25M235.05 293.4H238.25 M250.70 285V289M249.10 285H252.30M249.10 289H252.30 M264.75 285.7V290.5M263.15 285.7H266.35M263.15 290.5H266.35 M278.80 291V296M277.20 291H280.40M277.20 296H280.40 M292.85 297.5V302M291.25 297.5H294.45M291.25 302H294.45 M306.90 293.5V299.5M305.30 293.5H308.50M305.30 299.5H308.50 M320.95 294V299.5M319.35 294H322.55M319.35 299.5H322.55 M335.00 296V303.8M333.40 296H336.60M333.40 303.8H336.60" stroke="#821636" stroke-width="1.3" fill="none"/>
<circle cx="222.60" cy="294.7" r="1.85" fill="#a8133a"/>
<circle cx="236.65" cy="291.6" r="1.85" fill="#a8133a"/>
<circle cx="250.70" cy="287" r="1.85" fill="#a8133a"/>
<circle cx="264.75" cy="288.2" r="1.85" fill="#a8133a"/>
<circle cx="278.80" cy="293.4" r="1.85" fill="#a8133a"/>
<circle cx="292.85" cy="299.9" r="1.85" fill="#a8133a"/>
<circle cx="306.90" cy="296.6" r="1.85" fill="#a8133a"/>
<circle cx="320.95" cy="296.8" r="1.85" fill="#a8133a"/>
<circle cx="335.00" cy="298.6" r="1.85" fill="#a8133a"/>
<polyline points="222.60,296.8 236.65,296 250.70,294.2 264.75,295.3 278.80,295.3 292.85,298.6 306.90,299.9 320.95,299.4 335.00,299.9" fill="none" stroke="#d4a53c" stroke-width="1.5"/>
<path d="M221.10 295.6L222.60 298.2L224.10 295.6Z" fill="#b08a2c"/>
<path d="M235.15 294.8L236.65 297.4L238.15 294.8Z" fill="#b08a2c"/>
<path d="M249.20 293.0L250.70 295.59999999999997L252.20 293.0Z" fill="#b08a2c"/>
<path d="M263.25 294.1L264.75 296.7L266.25 294.1Z" fill="#b08a2c"/>
<path d="M277.30 294.1L278.80 296.7L280.30 294.1Z" fill="#b08a2c"/>
<path d="M291.35 297.40000000000003L292.85 300.0L294.35 297.40000000000003Z" fill="#b08a2c"/>
<path d="M305.40 298.7L306.90 301.29999999999995L308.40 298.7Z" fill="#b08a2c"/>
<path d="M319.45 298.2L320.95 300.79999999999995L322.45 298.2Z" fill="#b08a2c"/>
<path d="M333.50 298.7L335.00 301.29999999999995L336.50 298.7Z" fill="#b08a2c"/>
<polyline points="222.60,301.2 236.65,298.1 250.70,298.1 264.75,298.1 278.80,297.3 292.85,298.6 306.90,300.7 320.95,299.9 335.00,299.9" fill="none" stroke="#4a4c5a" stroke-width="1.15" stroke-dasharray="2.4,1.8"/>
<path d="M221.10 302.4L222.60 299.8L224.10 302.4Z" fill="#3a3c4c"/>
<path d="M235.15 299.3L236.65 296.70000000000005L238.15 299.3Z" fill="#3a3c4c"/>
<path d="M249.20 299.3L250.70 296.70000000000005L252.20 299.3Z" fill="#3a3c4c"/>
<path d="M263.25 299.3L264.75 296.70000000000005L266.25 299.3Z" fill="#3a3c4c"/>
<path d="M277.30 298.5L278.80 295.90000000000003L280.30 298.5Z" fill="#3a3c4c"/>
<path d="M291.35 299.8L292.85 297.20000000000005L294.35 299.8Z" fill="#3a3c4c"/>
<path d="M305.40 301.9L306.90 299.3L308.40 301.9Z" fill="#3a3c4c"/>
<path d="M319.45 301.09999999999997L320.95 298.5L322.45 301.09999999999997Z" fill="#3a3c4c"/>
<path d="M333.50 301.09999999999997L335.00 298.5L336.50 301.09999999999997Z" fill="#3a3c4c"/>
<circle cx="246.90" cy="279.7" r="1.1" fill="#141414"/>
<circle cx="250.70" cy="279.7" r="1.1" fill="#141414"/>
<circle cx="254.50" cy="279.7" r="1.1" fill="#141414"/>
<circle cx="262.85" cy="279.7" r="1.1" fill="#141414"/>
<circle cx="266.65" cy="279.7" r="1.1" fill="#141414"/>
<text transform="translate(51.60,343.5) rotate(-90)" font-size="8.3" text-anchor="end" fill="#1a1a1a" style="stroke-width:0.05px">Pre-chemo</text>
<text transform="translate(65.65,343.5) rotate(-90)" font-size="8.3" text-anchor="end" fill="#1a1a1a" style="stroke-width:0.05px">Pre-infusion</text>
<text transform="translate(79.70,343.5) rotate(-90)" font-size="8.3" text-anchor="end" fill="#1a1a1a" style="stroke-width:0.05px">0-36h</text>
<text transform="translate(93.75,343.5) rotate(-90)" font-size="8.3" text-anchor="end" fill="#1a1a1a" style="stroke-width:0.05px">2-5d</text>
<text transform="translate(107.80,343.5) rotate(-90)" font-size="8.3" text-anchor="end" fill="#1a1a1a" style="stroke-width:0.05px">6-8d</text>
<text transform="translate(121.85,343.5) rotate(-90)" font-size="8.3" text-anchor="end" fill="#1a1a1a" style="stroke-width:0.05px">9-12d</text>
<text transform="translate(135.90,343.5) rotate(-90)" font-size="8.3" text-anchor="end" fill="#1a1a1a" style="stroke-width:0.05px">13-18d</text>
<text transform="translate(149.95,343.5) rotate(-90)" font-size="8.3" text-anchor="end" fill="#1a1a1a" style="stroke-width:0.05px">18-23d</text>
<text transform="translate(164.00,343.5) rotate(-90)" font-size="8.3" text-anchor="end" fill="#1a1a1a" style="stroke-width:0.05px">24-30d</text>
<text transform="translate(225.40,343.5) rotate(-90)" font-size="8.3" text-anchor="end" fill="#1a1a1a" style="stroke-width:0.05px">Pre-chemo</text>
<text transform="translate(239.45,343.5) rotate(-90)" font-size="8.3" text-anchor="end" fill="#1a1a1a" style="stroke-width:0.05px">Pre-infusion</text>
<text transform="translate(253.50,343.5) rotate(-90)" font-size="8.3" text-anchor="end" fill="#1a1a1a" style="stroke-width:0.05px">0-36h</text>
<text transform="translate(267.55,343.5) rotate(-90)" font-size="8.3" text-anchor="end" fill="#1a1a1a" style="stroke-width:0.05px">2-5d</text>
<text transform="translate(281.60,343.5) rotate(-90)" font-size="8.3" text-anchor="end" fill="#1a1a1a" style="stroke-width:0.05px">6-8d</text>
<text transform="translate(295.65,343.5) rotate(-90)" font-size="8.3" text-anchor="end" fill="#1a1a1a" style="stroke-width:0.05px">9-12d</text>
<text transform="translate(309.70,343.5) rotate(-90)" font-size="8.3" text-anchor="end" fill="#1a1a1a" style="stroke-width:0.05px">13-18d</text>
<text transform="translate(323.75,343.5) rotate(-90)" font-size="8.3" text-anchor="end" fill="#1a1a1a" style="stroke-width:0.05px">18-23d</text>
<text transform="translate(337.80,343.5) rotate(-90)" font-size="8.3" text-anchor="end" fill="#1a1a1a" style="stroke-width:0.05px">24-30d</text>
<text transform="translate(399.00,224.5) rotate(-90)" font-size="8.3" text-anchor="end" fill="#1a1a1a" style="stroke-width:0.05px">Pre-chemo</text>
<text transform="translate(413.05,224.5) rotate(-90)" font-size="8.3" text-anchor="end" fill="#1a1a1a" style="stroke-width:0.05px">Pre-infusion</text>
<text transform="translate(427.10,224.5) rotate(-90)" font-size="8.3" text-anchor="end" fill="#1a1a1a" style="stroke-width:0.05px">0-36h</text>
<text transform="translate(441.15,224.5) rotate(-90)" font-size="8.3" text-anchor="end" fill="#1a1a1a" style="stroke-width:0.05px">2-5d</text>
<text transform="translate(455.20,224.5) rotate(-90)" font-size="8.3" text-anchor="end" fill="#1a1a1a" style="stroke-width:0.05px">6-8d</text>
<text transform="translate(469.25,224.5) rotate(-90)" font-size="8.3" text-anchor="end" fill="#1a1a1a" style="stroke-width:0.05px">9-12d</text>
<text transform="translate(483.30,224.5) rotate(-90)" font-size="8.3" text-anchor="end" fill="#1a1a1a" style="stroke-width:0.05px">13-18d</text>
<text transform="translate(497.35,224.5) rotate(-90)" font-size="8.3" text-anchor="end" fill="#1a1a1a" style="stroke-width:0.05px">18-23d</text>
<text transform="translate(511.40,224.5) rotate(-90)" font-size="8.3" text-anchor="end" fill="#1a1a1a" style="stroke-width:0.05px">24-30d</text>
<path d="M389.2 283.5L392.9 276.6L396.6 283.5Z" fill="#46475c"/>
<text x="402.8" y="282.7" font-size="8.3" font-weight="normal" text-anchor="start" fill="#111" textLength="45.2" lengthAdjust="spacingAndGlyphs">Grade 0 CRS</text>
<path d="M389.2 294.3L392.9 301L396.6 294.3Z" fill="#cc9a1c"/>
<text x="402.8" y="299.6" font-size="8.3" font-weight="normal" text-anchor="start" fill="#111" textLength="52.9" lengthAdjust="spacingAndGlyphs">Grade 1-3 CRS</text>
<circle cx="392.8" cy="315.1" r="3.7" fill="#9c1035"/>
<text x="402.8" y="317.8" font-size="8.3" font-weight="normal" text-anchor="start" fill="#111" textLength="52.4" lengthAdjust="spacingAndGlyphs">Grade ≥ 4 CRS</text>
<text x="120.4" y="413.4" font-size="11" font-weight="bold" text-anchor="start" fill="#000">I</text>
<rect x="178.5" y="412.8" width="107.69999999999999" height="42.0" fill="#d5d7e7"/>
<rect x="123.0" y="485.6" width="101.6" height="42.0" fill="#d5d7e7"/>
<rect x="240.4" y="485.6" width="100.9" height="42.0" fill="#d5d7e7"/>
<rect x="181.6" y="558.7" width="101.4" height="41.799999999999955" fill="#d5d7e7"/>
<rect x="298.4" y="558.7" width="101.0" height="41.799999999999955" fill="#d5d7e7"/>
<path d="M232.2 454.8V470.6M173.8 485.6V470.6H290.4V485.6M290.4 527.6V543M231.6 558.7V543H349.2V558.7" fill="none" stroke="#000" stroke-width="1.3"/>
<text x="231.8" y="423.0" font-size="8.6" font-weight="bold" text-anchor="middle" fill="#222" textLength="94.0" lengthAdjust="spacingAndGlyphs">First 36 hours after CAR-T</text>
<text x="230.0" y="431.6" font-size="8.6" font-weight="bold" text-anchor="middle" fill="#222" textLength="43.9" lengthAdjust="spacingAndGlyphs">cell infusion</text>
<text x="184.7" y="441.0" font-size="8.6" font-weight="normal" text-anchor="start" fill="#222" textLength="45.3" lengthAdjust="spacingAndGlyphs">Gr 0 – 3 CRS</text>
<text x="237.5" y="441.0" font-size="8.6" font-weight="normal" text-anchor="start" fill="#222" textLength="40.8" lengthAdjust="spacingAndGlyphs">123 patients</text>
<text x="184.7" y="450.3" font-size="8.6" font-weight="normal" text-anchor="start" fill="#222" textLength="45.3" lengthAdjust="spacingAndGlyphs">Gr 4 – 5 CRS</text>
<text x="237.5" y="450.3" font-size="8.6" font-weight="normal" text-anchor="start" fill="#222" textLength="36.5" lengthAdjust="spacingAndGlyphs">10 patients</text>
<text x="173.8" y="500.3" font-size="8.6" font-weight="bold" text-anchor="middle" fill="#222" textLength="77.5" lengthAdjust="spacingAndGlyphs">Temperature &lt;38.9 °C</text>
<text x="128.8" y="510.0" font-size="8.6" font-weight="normal" text-anchor="start" fill="#222" textLength="90.0" lengthAdjust="spacingAndGlyphs">Gr 0 – 3 CRS 103 patients</text>
<text x="128.8" y="518.6" font-size="8.6" font-weight="normal" text-anchor="start" fill="#222" textLength="81.2" lengthAdjust="spacingAndGlyphs">Gr 4 – 5 CRS 0 patients</text>
<text x="290.4" y="500.0" font-size="8.6" font-weight="bold" text-anchor="middle" fill="#222" textLength="75.3" lengthAdjust="spacingAndGlyphs">Temperature ≥38.9°C</text>
<text x="248.0" y="509.6" font-size="8.6" font-weight="normal" text-anchor="start" fill="#222" textLength="85.3" lengthAdjust="spacingAndGlyphs">Gr 0 – 3 CRS 20 patients</text>
<text x="248.0" y="518.6" font-size="8.6" font-weight="normal" text-anchor="start" fill="#222" textLength="85.3" lengthAdjust="spacingAndGlyphs">Gr 4 – 5 CRS 10 patients</text>
<text x="344.4" y="505.1" font-size="8.6" font-weight="normal" text-anchor="start" fill="#222" textLength="51.0" lengthAdjust="spacingAndGlyphs">Sensitivity 1.00</text>
<text x="344.4" y="513.8" font-size="8.6" font-weight="normal" text-anchor="start" fill="#222" textLength="51.0" lengthAdjust="spacingAndGlyphs">Specificity 0.84</text>
<text x="232.3" y="573.0" font-size="8.6" font-weight="bold" text-anchor="middle" fill="#222" textLength="78.5" lengthAdjust="spacingAndGlyphs">MCP-1 &lt;1343.5 pg/mL</text>
<text x="189.0" y="582.2" font-size="8.6" font-weight="normal" text-anchor="start" fill="#222" textLength="86.2" lengthAdjust="spacingAndGlyphs">Gr 0 – 3 CRS 14 patients</text>
<text x="189.0" y="591.1" font-size="8.6" font-weight="normal" text-anchor="start" fill="#222" textLength="81.6" lengthAdjust="spacingAndGlyphs">Gr 4 – 5 CRS 0 patients</text>
<text x="348.9" y="573.6" font-size="8.6" font-weight="bold" text-anchor="middle" fill="#222" textLength="78.1" lengthAdjust="spacingAndGlyphs">MCP-1 ≥1343.5 pg/mL</text>
<text x="306.9" y="582.6" font-size="8.6" font-weight="normal" text-anchor="start" fill="#222" textLength="80.0" lengthAdjust="spacingAndGlyphs">Gr 0 – 3 CRS 6 patients</text>
<text x="306.9" y="591.2" font-size="8.6" font-weight="normal" text-anchor="start" fill="#222" textLength="84.3" lengthAdjust="spacingAndGlyphs">Gr 4 – 5 CRS 10 patients</text>
<text x="127.0" y="578.0" font-size="8.6" font-weight="normal" text-anchor="start" fill="#222" textLength="50.8" lengthAdjust="spacingAndGlyphs">Sensitivity 1.00</text>
<text x="127.0" y="586.9" font-size="8.6" font-weight="normal" text-anchor="start" fill="#222" textLength="50.8" lengthAdjust="spacingAndGlyphs">Specificity 0.95</text>
</svg>
</body></html>
